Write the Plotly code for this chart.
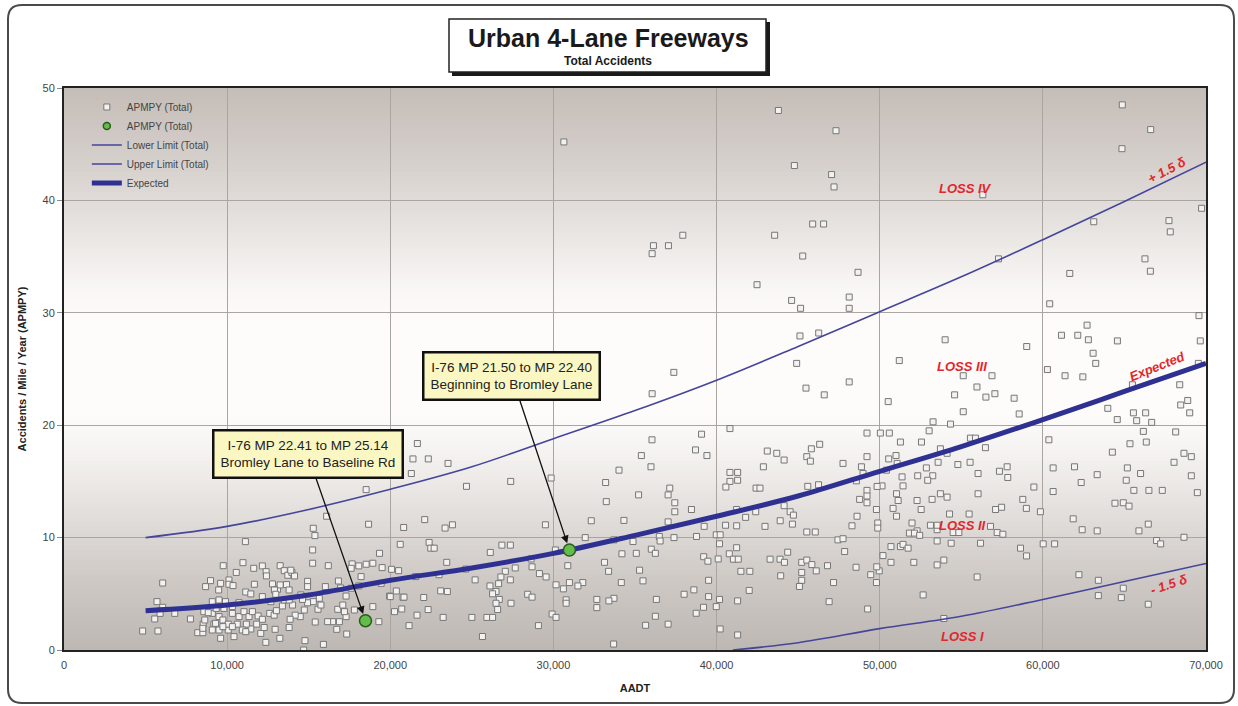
import plotly.graph_objects as go

# ---------------- data ----------------
aadt_a = [4820, 5760, 5700, 6050, 5560, 5890, 6050, 6790, 7750, 8200,
          8510, 8680, 8980, 9600, 9480, 9760, 10110, 10110, 10360, 10560,
          10970, 11120, 11630, 12160, 12390, 12410, 13250, 13500, 13720, 13970,
          14130, 13900, 11670, 11140, 11450, 12780, 13090, 13250, 13640, 13800,
          12900, 14930, 14930, 15240, 15240, 15280, 15380, 16100, 16200, 16020,
          16820, 16960, 17660, 17600, 18210, 18070, 18520, 18930, 19340, 19500,
          20080, 20510, 18520, 18670, 20610, 20820, 21560, 19440, 19960, 20370,
          20780, 20260, 20700, 21150, 21640, 19300, 18930, 17800, 17290, 17190,
          16780, 16880, 16470, 16160, 17090, 17290, 17600, 18070, 16720, 17330,
          15900, 14770, 14690, 15400, 15570, 15750, 15650, 15280, 14930, 14620,
          14520, 14730, 14480, 14170, 13860, 13800, 13230, 12940, 12370, 12060,
          12270, 11810, 11450, 11180, 10930, 10620, 10420, 10070, 9600, 9500,
          9190, 9090, 8530, 8510, 8630, 9090, 9500, 9740, 10070, 10320,
          10730, 11030, 11340, 11550, 11900, 12160, 12610, 12880, 13020, 13390,
          13500, 14010, 13800, 10730, 10320, 9900, 9500, 9090, 9330, 9800,
          8570, 8840, 12680, 12160, 12980, 9290, 9740, 10320, 11140]
apmpy_a = [1.69, 1.69, 4.3, 5.96, 2.76, 3.26, 3.8, 3.26, 2.76, 1.54,
           1.54, 5.64, 6.17, 5.93, 5.34, 7.5, 6.23, 5.85, 5.73, 6.9,
           7.77, 9.64, 7.27, 7.48, 6.97, 6.59, 7.5, 7.06, 6.65, 6.9,
           6.59, 7.1, 5.85, 5.16, 4.99, 5.88, 5.4, 5.79, 5.82, 5.34,
           5.34, 6.11, 5.64, 7.72, 8.9, 10.83, 10.18, 11.9, 7.5, 5.64,
           6.14, 5.52, 7.66, 7.27, 6.53, 7.48, 7.63, 7.72, 8.6, 7.33,
           7.18, 7.06, 14.27, 11.19, 9.4, 10.9, 6.53, 5.93, 4.8, 5.25,
           4.69, 3.41, 3.65, 2.17, 3.1, 2.52, 3.86, 3.56, 2.97, 3.41,
           3.62, 2.52, 2.52, 2.52, 4.0, 4.8, 5.49, 5.7, 1.84, 1.42,
           0.5, 0.83, 0.0, 2.49, 3.62, 4.0, 4.6, 4.3, 4.2, 4.5,
           4.9, 3.56, 2.97, 3.1, 2.73, 2.0, 1.04, 1.84, 0.68, 1.48,
           2.0, 2.3, 1.87, 2.3, 1.78, 2.3, 1.19, 1.78, 1.04, 1.78,
           2.3, 1.78, 2.3, 1.93, 2.67, 3.26, 2.97, 2.67, 2.3, 3.26,
           2.97, 3.41, 2.97, 3.41, 3.03, 2.73, 3.26, 3.1, 3.5, 3.92,
           4.45, 4.0, 4.45, 4.21, 3.86, 4.3, 4.45, 4.3, 3.7, 3.7,
           3.41, 3.32, 4.3, 4.75, 4.96, 2.37, 2.08, 2.08, 1.63]

aadt_b = [30640, 43790, 44770, 37930, 36130, 37050, 36050, 43560, 45280, 42480,
          44600, 45150, 45110, 44910, 45480, 37380, 36050,
          47320, 47050, 47200, 64870, 66610, 64850, 56320, 69730, 45890, 46560,
          63120, 67730, 67810, 57280, 66260, 66590, 48670, 61650, 48130, 48130,
          60420, 69570, 69650, 62710, 61140, 62140, 62790, 64570, 63080, 63240,
          54010, 59010, 46260, 51200, 60280, 61360, 62450, 69530, 68390, 68880,
          68450, 69000, 63980, 65550, 66300, 65490, 55120, 56880, 55960, 54590,
          56510, 57060, 58240, 55120, 58550, 50520, 46600, 48130]
apmpy_b = [45.2, 48.0, 43.1, 36.9, 35.97, 35.97, 35.26, 36.9, 35.05, 32.5,
           31.1, 30.4, 27.94, 25.5, 23.3, 24.7, 22.8,
           46.2, 42.3, 41.2, 48.5, 46.3, 44.6, 40.5, 39.3, 37.9, 37.9,
           38.1, 38.2, 37.2, 34.8, 34.8, 33.7, 33.6, 33.5, 31.4, 30.4,
           30.8, 29.75, 27.5, 28.9, 28.0, 28.0, 27.6, 27.5, 26.4, 25.5,
           27.6, 27.0, 28.2, 25.75, 24.95, 24.4, 24.3, 25.5, 23.6, 22.2,
           21.8, 21.1, 21.5, 21.1, 21.1, 23.6, 24.4, 24.4, 23.4, 22.7,
           22.5, 22.8, 22.4, 21.2, 21.0, 22.1, 22.7, 23.85]

aadt_c = [21660, 21390, 22330, 23540, 21290, 24670, 27380, 29860, 22110, 23360,
          23810, 29510, 22380, 22480, 22690, 26840, 27360, 26130, 30120, 31950,
          32320, 33200, 33240, 34020, 34320, 35390, 35980, 36040, 35220, 37030,
          37130, 37440, 37440, 38460, 37030, 37390, 36490, 36540, 39080, 38710,
          39410, 40820, 40820, 41290, 41290, 40820, 40570, 42420, 42660, 42870,
          43110, 43690, 44140, 45530, 45590, 44140, 44510, 44710, 43900, 44650,
          42970, 42400, 41780, 41230, 41230, 40550, 39240, 38770, 39980, 40220,
          40180, 41230, 40780, 41030, 41330, 39210, 39470, 40100, 43280, 43890,
          44160, 44360, 45530, 45220, 45530, 45220, 45220, 45080, 41490, 42040,
          43930, 42000, 41290, 40180, 39980, 39510, 39510, 39200, 38750, 38010,
          38610, 40220, 41290, 37030, 35650, 36250, 36310, 35490, 35280, 35080,
          34160, 34200, 33380, 33130, 34880, 33710, 36000, 36250, 33710, 33400,
          32660, 32660, 31800, 31500, 30980, 30610, 30160, 30880, 30780, 30780,
          29920, 30160, 33690, 29080, 28420, 28690, 29550, 29140, 28630, 28690,
          27660, 27360, 27050, 26780, 26640, 26110, 26480, 26270, 26680, 26480,
          26580, 27400, 25920, 26270, 25650, 25000, 25200, 24630, 23460, 22990,
          23090, 23500, 22050, 22320, 23240, 20840, 20000]
apmpy_c = [18.37, 17.0, 17.0, 16.6, 15.7, 14.56, 15.0, 15.3, 11.6, 10.85,
           11.14, 11.14, 9.57, 9.06, 9.06, 9.33, 9.33, 8.68, 8.9, 10.0,
           11.5, 14.9, 13.2, 16.0, 11.53, 17.3, 16.3, 18.7, 13.8, 13.8,
           14.4, 13.1, 12.3, 12.5, 11.4, 10.0, 10.1, 9.7, 19.2, 17.8,
           17.3, 19.7, 15.8, 15.8, 15.1, 15.0, 14.5, 14.4, 14.4, 16.3,
           17.7, 17.5, 16.9, 17.2, 14.56, 12.84, 12.3, 12.0, 11.5, 11.2,
           11.0, 12.3, 11.8, 12.5, 11.05, 11.1, 11.0, 10.1, 10.25, 10.25,
           9.45, 9.1, 8.56, 8.08, 8.08, 8.3, 7.9, 8.1, 8.08, 8.08,
           7.8, 8.7, 10.5, 7.8, 8.0, 6.9, 6.2, 5.65, 7.0, 7.0,
           6.6, 5.3, 4.37, 4.5, 3.86, 6.2, 4.75, 3.8, 3.27, 4.96,
           5.35, 1.87, 1.34, 2.3, 2.2, 3.0, 4.5, 6.15, 7.1, 8.6,
           6.0, 8.56, 7.0, 7.8, 9.65, 9.8, 8.97, 8.6, 4.6, 4.37,
           4.5, 3.77, 6.0, 5.7, 6.0, 5.44, 5.8, 7.5, 4.46, 4.16,
           3.2, 2.9, 0.53, 2.17, 4.96, 4.7, 6.5, 6.8, 8.1, 7.4,
           7.3, 6.24, 7.0, 6.5, 5.9, 5.7, 5.2, 5.0, 4.5, 4.16,
           3.6, 4.16, 2.9, 2.9, 1.2, 2.9, 6.24, 7.2, 7.8, 6.7,
           5.26, 5.2, 4.67, 3.6, 2.9, 4.7, 4.75]

aadt_d = [53270, 54340, 53030, 49220, 50040, 50590, 51270, 52560, 55560, 55870,
          56480, 53720, 54130, 51000, 50550, 51070, 49220, 47750, 48880, 46320,
          45810, 45750, 53580, 54790, 55540, 52860, 50410, 52330, 53250, 52940,
          51370, 51430, 48980, 48570, 56030, 57340, 57810, 57850, 59450, 60370,
          60630, 61940, 63330, 62350, 64260, 65340, 66340, 65180, 65110, 65990,
          65580, 66500, 67320, 66160, 66670, 65750, 64560, 68140, 68040, 68650,
          69100, 69100, 69470, 60630, 58770, 58990, 59850, 57100, 57470, 56030,
          55480, 54130, 53720, 53210, 54280, 52290, 52540, 51030, 51130, 50820,
          51030, 50140, 49840, 49220, 49220, 49220, 48770, 49800, 48610, 48300,
          49880, 49880, 51980, 52290, 51820, 52130, 52450, 53110, 53520, 53520,
          54500, 54850, 56790, 57200, 57550, 53520, 54380, 56180, 60020, 60720,
          61860, 62410, 63330, 64420, 64930, 65280, 65890, 66460, 66970, 67220,
          68650, 58630, 59000, 62210, 63400, 63400, 64930, 64810, 66460, 55970,
          52660, 53930, 53930, 53520, 52090, 51270, 51430, 51740, 50690, 50690,
          50200, 49970, 49820, 49450, 49800, 48550, 49260, 47850, 47440, 47750,
          46800, 47170, 46900, 46050, 46250, 45840, 46110]
apmpy_d = [20.3, 20.1, 19.5, 19.3, 19.3, 19.3, 18.5, 18.5, 18.85, 18.85,
           18.0, 17.9, 17.5, 17.3, 17.0, 16.6, 17.2, 16.6, 16.3, 18.3,
           17.9, 16.8, 16.7, 16.5, 16.7, 16.2, 16.0, 15.5, 15.5, 15.1,
           15.4, 14.6, 15.7, 15.05, 15.7, 15.9, 16.3, 15.35, 14.5, 18.7,
           16.2, 16.3, 15.6, 14.9, 17.6, 18.35, 18.5, 16.2, 15.1, 15.7,
           14.2, 14.2, 14.2, 19.45, 20.25, 20.4, 20.5, 19.4, 16.7, 17.5,
           17.2, 15.5, 14.0, 14.1, 13.4, 12.6, 12.3, 12.5, 12.7, 13.9,
           12.1, 13.6, 13.9, 13.4, 12.1, 13.3, 12.5, 13.9, 13.3, 12.6,
           11.9, 14.6, 14.55, 14.2, 13.7, 13.1, 13.4, 12.5, 11.9, 11.05,
           11.3, 10.85, 11.3, 10.6, 10.4, 10.4, 10.2, 11.1, 10.7, 11.1,
           10.45, 10.45, 11.0, 10.45, 10.3, 9.7, 9.5, 9.5, 9.44, 9.44,
           11.67, 10.7, 10.6, 13.06, 13.1, 12.8, 10.6, 11.2, 9.74, 9.44,
           10.03, 9.06, 8.37, 6.7, 6.2, 4.84, 5.5, 4.66, 4.07, 6.5,
           4.9, 2.8, 8.0, 7.57, 7.8, 9.2, 9.4, 9.06, 9.2, 7.8,
           8.4, 7.04, 7.4, 6.7, 6.0, 7.36, 3.65, 8.76, 9.8, 9.9,
           7.5, 6.0, 4.3, 10.5, 14.7, 7.6, 7.04]

highlight_aadt = [18480, 30980]
highlight_apmpy = [2.61, 8.9]

curve_aadt = [5000, 10000, 15000, 20000, 25000, 30000, 35000,
              40000, 45000, 50000, 55000, 60000, 65000, 70000]
expected = [3.5, 4.0, 4.9, 6.2, 7.3, 8.6, 10.2, 11.9, 13.7, 15.9, 18.1, 20.5, 23.0, 25.5]
upper = [10.0, 11.0, 12.5, 14.3, 16.3, 18.8, 21.3, 24.0, 27.0, 30.1, 33.2, 36.5, 39.9, 43.4]
lower_aadt = [41000, 45000, 50000, 55000, 60000, 65000, 70000]
lower = [0.0, 0.65, 1.9, 3.0, 4.5, 6.1, 7.7]

x_range = [0, 70000]
y_range = [0, 50]

all_aadt = aadt_a + aadt_b + aadt_c + aadt_d
all_apmpy = apmpy_a + apmpy_b + apmpy_c + apmpy_d

# ---------------- layout geometry helpers ----------------
W, H = 1238, 706
ML, MR, MT, MB = 64, 32, 88, 56
PW, PH = W - ML - MR, H - MT - MB


def px(x):
    return (x - ML) / PW


def py(y):
    return (H - MB - y) / PH


FONT = "Arial, Liberation Sans, sans-serif"
LINE_BLUE = "#45459c"
EXP_BLUE = "#2e3192"
RED = "#e3262c"
SQ_MARK = dict(symbol="square", size=6, color="#f4f2f0", line=dict(color="#777777", width=1))
GREEN_FILL, GREEN_EDGE = "#62bd4a", "#2d5a1e"

fig = go.Figure()

fig.add_trace(go.Scatter(
    x=all_aadt, y=all_apmpy, mode="markers", name="APMPY (Total)",
    marker=SQ_MARK, legendrank=1, hoverinfo="x+y"))
fig.add_trace(go.Scatter(
    x=lower_aadt, y=lower, mode="lines", name="Lower Limit (Total)",
    line=dict(color=LINE_BLUE, width=1.6, shape="spline"), legendrank=3))
fig.add_trace(go.Scatter(
    x=curve_aadt, y=upper, mode="lines", name="Upper Limit (Total)",
    line=dict(color=LINE_BLUE, width=1.6, shape="spline"), legendrank=4))
fig.add_trace(go.Scatter(
    x=curve_aadt, y=expected, mode="lines", name="Expected",
    line=dict(color=EXP_BLUE, width=5, shape="spline"), legendrank=5))
fig.add_trace(go.Scatter(
    x=highlight_aadt, y=highlight_apmpy, mode="markers", name="APMPY (Total)",
    marker=dict(symbol="circle", size=12, color=GREEN_FILL,
                line=dict(color=GREEN_EDGE, width=1.5)),
    showlegend=False))
# legend entry for the highlighted points with a smaller symbol
fig.add_trace(go.Scatter(
    x=[None], y=[None], mode="markers", name="APMPY (Total)",
    marker=dict(symbol="circle", size=7, color=GREEN_FILL,
                line=dict(color=GREEN_EDGE, width=1.5)),
    legendrank=2, hoverinfo="skip"))

# ---------------- background gradient bands ----------------
stops = [(0.0, (189, 183, 178)), (6, (205, 200, 196)), (12, (226, 222, 219)),
         (18, (246, 244, 242)), (21, (253, 252, 250)), (29, (253, 252, 250)),
         (32, (249, 247, 245)), (38, (230, 226, 223)), (44, (212, 206, 202)),
         (50, (196, 188, 183))]


def col_at(v):
    for (a, ca), (b, cb) in zip(stops[:-1], stops[1:]):
        if a <= v <= b:
            t = (v - a) / (b - a)
            c = [round(ca[i] + (cb[i] - ca[i]) * t) for i in range(3)]
            return "rgb(%d,%d,%d)" % tuple(c)
    return "rgb(%d,%d,%d)" % stops[-1][1]


shapes = []
N = 140
for i in range(N):
    y0 = i / N
    y1 = (i + 1) / N
    shapes.append(dict(type="rect", xref="paper", yref="paper", x0=0, x1=1,
                       y0=y0, y1=min(1, y1 + 0.003), layer="below",
                       line=dict(width=0), fillcolor=col_at((y0 + y1) / 2 * 50)))

# outer rounded frame
fx0, fx1, fy0, fy1 = px(8), px(1234), py(703), py(5)
rx, ry = 14 / PW, 14 / PH
frame = (f"M {fx0+rx},{fy1} L {fx1-rx},{fy1} Q {fx1},{fy1} {fx1},{fy1-ry} "
         f"L {fx1},{fy0+ry} Q {fx1},{fy0} {fx1-rx},{fy0} L {fx0+rx},{fy0} "
         f"Q {fx0},{fy0} {fx0},{fy0+ry} L {fx0},{fy1-ry} Q {fx0},{fy1} {fx0+rx},{fy1} Z")
shapes.append(dict(type="path", xref="paper", yref="paper", path=frame,
                   line=dict(color="#4a4a4a", width=2)))

# title box with shadow
shapes.append(dict(type="rect", xref="paper", yref="paper",
                   x0=px(452), x1=px(770), y0=py(76), y1=py(22),
                   fillcolor="#1a1a1a", line=dict(width=0)))
shapes.append(dict(type="rect", xref="paper", yref="paper",
                   x0=px(449), x1=px(766), y0=py(72), y1=py(19),
                   fillcolor="#ffffff", line=dict(color="#222222", width=1.5)))

annotations = [
    dict(xref="paper", yref="paper", x=px(608), y=py(38), xanchor="center", yanchor="middle",
         text="<b>Urban 4-Lane Freeways</b>",
         showarrow=False, font=dict(family=FONT, size=25, color="#1a1a1a")),
    dict(xref="paper", yref="paper", x=px(608), y=py(61), xanchor="center", yanchor="middle",
         text="<b>Total Accidents</b>",
         showarrow=False, font=dict(family=FONT, size=12, color="#1a1a1a")),
    # callouts
    dict(x=highlight_aadt[0], y=highlight_apmpy[0], ax=14940, ay=17.4, axref="x", ayref="y",
         text="I-76 MP 22.41 to MP 25.14<br>Bromley Lane to Baseline Rd",
         showarrow=True, arrowhead=2, arrowsize=1.2, arrowwidth=1.3, arrowcolor="#111111",
         standoff=7, bgcolor="#fbf7c3", bordercolor="#111111", borderwidth=2.5, borderpad=6,
         font=dict(family=FONT, size=13.5, color="#222222")),
    dict(x=highlight_aadt[1], y=highlight_apmpy[1], ax=27440, ay=24.4, axref="x", ayref="y",
         text="I-76 MP 21.50 to MP 22.40<br>Beginning to Bromley Lane",
         showarrow=True, arrowhead=2, arrowsize=1.2, arrowwidth=1.3, arrowcolor="#111111",
         standoff=7, bgcolor="#fbf7c3", bordercolor="#111111", borderwidth=2.5, borderpad=6,
         font=dict(family=FONT, size=13.5, color="#222222")),
]

red_labels = [("LOSS IV", 55240, 41.1, 0), ("LOSS III", 55060, 25.2, 0),
              ("LOSS II", 55060, 11.07, 0), ("LOSS I", 55060, 1.2, 0),
              ("+ 1.5 δ", 67550, 42.7, -28), ("Expected", 67000, 25.2, -22),
              ("- 1.5 δ", 67730, 5.8, -18)]
for t, xv, yv, ang in red_labels:
    annotations.append(dict(x=xv, y=yv, text="<b><i>%s</i></b>" % t, showarrow=False,
                            textangle=ang, font=dict(family=FONT, size=13, color=RED)))

fig.update_layout(
    width=W, height=H, autosize=False,
    margin=dict(l=ML, r=MR, t=MT, b=MB, pad=0),
    paper_bgcolor="#ffffff", plot_bgcolor="#ffffff",
    font=dict(family=FONT, size=11, color="#444444"),
    shapes=shapes, annotations=annotations,
    showlegend=True,
    legend=dict(x=0.02, y=0.992, xanchor="left", yanchor="top",
                bgcolor="rgba(0,0,0,0)", borderwidth=0, tracegroupgap=0,
                font=dict(family=FONT, size=10, color="#444444")),
    xaxis=dict(range=x_range, dtick=10000, tickformat=",d", showgrid=True,
               gridcolor="#aaa5a1", gridwidth=1, zeroline=False,
               showline=True, linecolor="#222222", linewidth=2, mirror=True,
               ticks="outside", ticklen=4, tickcolor="rgba(0,0,0,0)",
               tickfont=dict(family=FONT, size=11, color="#444444"),
               title=dict(text="<b>AADT</b>", standoff=14,
                          font=dict(family=FONT, size=11, color="#222222")),
               automargin=False, fixedrange=True),
    yaxis=dict(range=y_range, dtick=10, showgrid=True,
               gridcolor="#aaa5a1", gridwidth=1, zeroline=False,
               showline=True, linecolor="#222222", linewidth=2, mirror=True,
               ticks="outside", ticklen=5, tickcolor="#888888",
               tickfont=dict(family=FONT, size=11, color="#444444"),
               title=dict(text="<b>Accidents / Mile / Year (APMPY)</b>", standoff=14,
                          font=dict(family=FONT, size=11, color="#222222")),
               automargin=False, fixedrange=True),
)

fig.write_html("out.html", config={"displayModeBar": False},
               post_script="document.body.style.margin='0';")
